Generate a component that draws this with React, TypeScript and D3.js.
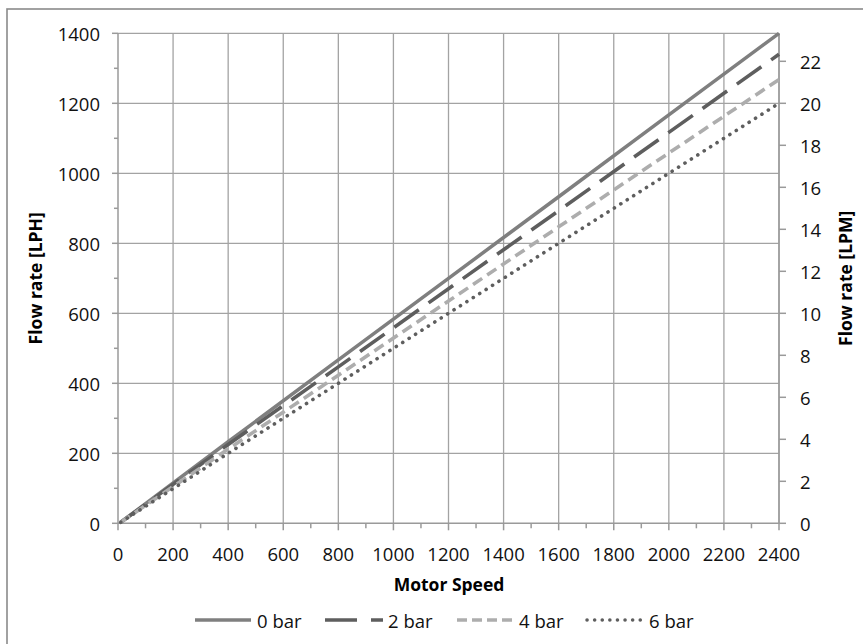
import React from "react";
import * as d3 from "d3";

const speeds = [10, 400, 800, 1200, 1600, 2000, 2400];
const bar0 = [3, 233, 467, 700, 933, 1167, 1400];
const bar2 = [3, 225, 447, 670, 893, 1117, 1340];
const bar4 = [3, 212, 423, 635, 847, 1058, 1268];
const bar6 = [3, 200, 400, 600, 800, 1000, 1200];
const seriesNames = ["0 bar", "2 bar", "4 bar", "6 bar"];
const xTicks = [0, 200, 400, 600, 800, 1000, 1200, 1400, 1600, 1800, 2000, 2200, 2400];
const yTicks = [0, 200, 400, 600, 800, 1000, 1200, 1400];
const y2Ticks = [0, 2, 4, 6, 8, 10, 12, 14, 16, 18, 20, 22];

const FONT = "'Open Sans', 'Noto Sans', sans-serif";

export default function App() {
  const W = 863, H = 644;
  const L = 118, R = 779, T = 33.3, B = 523.3;
  const x = d3.scaleLinear().domain([0, 2400]).range([L, R]);
  const y = d3.scaleLinear().domain([0, 1400]).range([B, T]);
  const y2 = d3.scaleLinear().domain([0, 1400 / 60]).range([B, T]);

  const styles = [
    { data: bar0, color: "#7f7f7f", dash: "", cap: "butt", w: 3.5 },
    { data: bar2, color: "#5e5e5e", dash: "30,12", cap: "butt", w: 3.6 },
    { data: bar4, color: "#adadad", dash: "11,6", cap: "butt", w: 3.6 },
    { data: bar6, color: "#5e5e5e", dash: "0.1,7.5", cap: "round", w: 3.6 },
  ];
  const line = d3
    .line<[number, number]>()
    .x((d) => x(d[0]))
    .y((d) => y(d[1]));

  const minorX = d3.range(100, 2400, 200);
  const minorY = d3.range(100, 1400, 200);
  const gridColor = "#a3a3a3";
  const axisColor = "#9a9a9a";

  const legendItems = [
    { x0: 195, x1: 251, tx: 257 },
    { x0: 325, x1: 383, tx: 388 },
    { x0: 457, x1: 514, tx: 519 },
    { x0: 587, x1: 641, tx: 649 },
  ];
  const legendDash = ["", "32,14", "10,5", "0.1,7.5"];

  return (
    <svg width={W} height={H} style={{ position: "absolute", left: 0, top: 0 }}>
      <rect x={0} y={0} width={W} height={H} fill="#fff" />
      <rect x={7} y={9} width={W + 20} height={H + 20} fill="#fff" stroke="#8a8a8a" strokeWidth={1.6} />
      {/* gridlines */}
      {xTicks.slice(1).map((t) => (
        <line key={"gx" + t} x1={x(t)} x2={x(t)} y1={T} y2={B} stroke={gridColor} strokeWidth={1.3} />
      ))}
      {yTicks.slice(1).map((t) => (
        <line key={"gy" + t} x1={L} x2={R} y1={y(t)} y2={y(t)} stroke={gridColor} strokeWidth={1.3} />
      ))}
      {/* axes */}
      <line x1={L} x2={L} y1={T} y2={B} stroke={axisColor} strokeWidth={1.5} />
      <line x1={L} x2={R} y1={B} y2={B} stroke={axisColor} strokeWidth={1.5} />
      <line x1={R} x2={R} y1={T} y2={B} stroke={axisColor} strokeWidth={1.5} />
      {xTicks.map((t) => (
        <line key={"tx" + t} x1={x(t)} x2={x(t)} y1={B} y2={B + 7} stroke={axisColor} strokeWidth={1.5} />
      ))}
      {minorX.map((t) => (
        <line key={"mx" + t} x1={x(t)} x2={x(t)} y1={B} y2={B + 5} stroke={axisColor} strokeWidth={1.5} />
      ))}
      {yTicks.map((t) => (
        <line key={"ty" + t} x1={L - 6} x2={L} y1={y(t)} y2={y(t)} stroke={axisColor} strokeWidth={1.5} />
      ))}
      {minorY.map((t) => (
        <line key={"my" + t} x1={L - 4} x2={L} y1={y(t)} y2={y(t)} stroke={axisColor} strokeWidth={1.5} />
      ))}
      {y2Ticks.map((t) => (
        <line key={"ty2" + t} x1={R} x2={R + 7} y1={y2(t)} y2={y2(t)} stroke={axisColor} strokeWidth={1.5} />
      ))}
      {/* tick labels */}
      <g fontFamily={FONT} fontSize={18.5} fill="#111">
        {xTicks.map((t) => (
          <text key={"lx" + t} x={x(t)} y={553} textAnchor="middle" dominantBaseline="central">
            {t}
          </text>
        ))}
        {yTicks.map((t) => (
          <text key={"ly" + t} x={100} y={y(t)} textAnchor="end" dominantBaseline="central">
            {t}
          </text>
        ))}
        {y2Ticks.map((t) => (
          <text key={"ly2" + t} x={800} y={y2(t)} textAnchor="start" dominantBaseline="central">
            {t}
          </text>
        ))}
      </g>
      {/* series */}
      {styles.map((s, i) => (
        <path
          key={"s" + i}
          d={line(speeds.map((v, j) => [v, s.data[j]] as [number, number])) || ""}
          fill="none"
          stroke={s.color}
          strokeWidth={s.w}
          strokeDasharray={s.dash || undefined}
          strokeLinecap={s.cap as any}
        />
      ))}
      {/* axis titles */}
      <g fontFamily={FONT} fontWeight="bold" fontSize={17.5} fill="#000">
        <text x={449} y={584} textAnchor="middle" dominantBaseline="central">
          Motor Speed
        </text>
        <text transform={`translate(35,${(T + B) / 2}) rotate(-90)`} textAnchor="middle" dominantBaseline="central">
          Flow rate [LPH]
        </text>
        <text transform={`translate(845,${(T + B) / 2}) rotate(-90)`} textAnchor="middle" dominantBaseline="central">
          Flow rate [LPM]
        </text>
      </g>
      {/* legend */}
      {legendItems.map((it, i) => (
        <g key={"lg" + i}>
          <line
            x1={it.x0}
            x2={it.x1}
            y1={620}
            y2={620}
            stroke={styles[i].color}
            strokeWidth={3.5}
            strokeDasharray={legendDash[i] || undefined}
            strokeLinecap={styles[i].cap as any}
          />
          <text x={it.tx} y={620} fontFamily={FONT} fontSize={18.5} fill="#111" dominantBaseline="central">
            {seriesNames[i]}
          </text>
        </g>
      ))}
    </svg>
  );
}
